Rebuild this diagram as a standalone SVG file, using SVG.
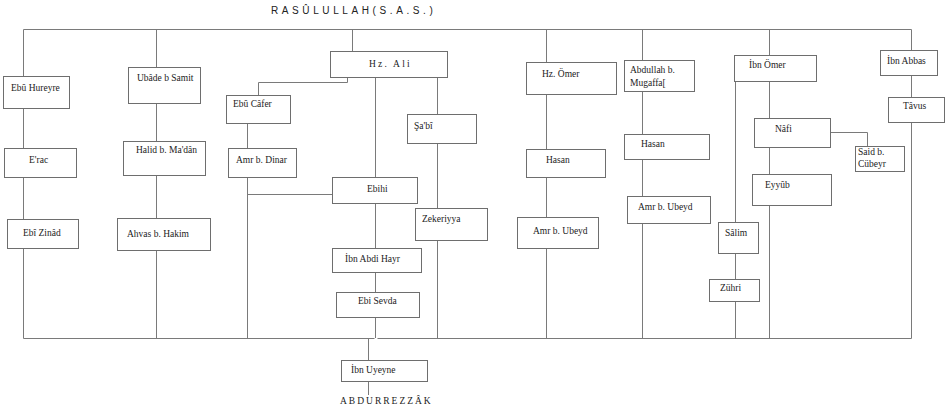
<svg xmlns="http://www.w3.org/2000/svg" width="947" height="411" viewBox="0 0 947 411">
<style>
.ln{stroke:#7a7a7a;stroke-width:1;fill:none}
.bx rect{fill:#fff;stroke:#6e6e6e;stroke-width:1}
.bx text,.t{font-family:"Liberation Serif","Times New Roman",serif;font-size:9.5px;fill:#222}
.title{font-family:"Liberation Sans",Arial,sans-serif;font-size:10px;letter-spacing:3.6px;fill:#222}
.sp{letter-spacing:2px}
</style>
<rect width="947" height="411" fill="#fff"/>
<text class="title" x="271" y="14">RASÛLULLAH(S.A.S.)</text>
<g id="connectors" class="ln">
<path d="M23.5 29.5H911.5V338.5"/>
<path d="M23.5 29.5V338.5H374.5M377.5 338.5H911.5"/>
<path d="M156.5 29.5V338.5"/>
<path d="M352.5 29.5V51"/>
<path d="M347.5 77V82.5H258.5V95"/>
<path d="M247.5 123V338.5"/>
<path d="M247.5 194.5H332"/>
<path d="M375.5 77V338"/>
<path d="M437.5 77V338.5"/>
<path d="M368.5 338.5V395"/>
<path d="M546.5 29.5V338.5"/>
<path d="M642.5 29.5V338.5"/>
<path d="M769.5 29.5V338.5"/>
<path d="M735.5 81V338.5"/>
<path d="M830 132.5H867.5V146"/>
</g>
<g id="n-ebu-hureyre" class="bx"><rect x="3.5" y="76.5" width="66" height="32"/><text x="11" y="91">Ebû Hureyre</text></g>
<g id="n-erac" class="bx"><rect x="4.5" y="148.5" width="72" height="29"/><text x="29" y="163">E'rac</text></g>
<g id="n-ebi-zinad" class="bx"><rect x="7.5" y="219.5" width="71" height="29"/><text x="23" y="236">Ebî Zinâd</text></g>
<g id="n-ubade" class="bx"><rect x="128.5" y="67.5" width="72" height="36"/><text x="137" y="81">Ubâde b Samit</text></g>
<g id="n-halid" class="bx"><rect x="123.5" y="141.5" width="82" height="34"/><text x="136" y="153">Halid b. Ma'dân</text></g>
<g id="n-ahvas" class="bx"><rect x="117.5" y="218.5" width="93" height="32"/><text x="127" y="237">Ahvas b. Hakim</text></g>
<g id="n-hz-ali" class="bx"><rect x="330.5" y="51.5" width="117" height="26"/><text x="369" y="67" style="letter-spacing:2.2px">Hz. Ali</text></g>
<g id="n-ebu-cafer" class="bx"><rect x="226.5" y="95.5" width="64" height="28"/><text x="233" y="107">Ebû Câfer</text></g>
<g id="n-amr-dinar" class="bx"><rect x="228.5" y="148.5" width="68" height="29"/><text x="236" y="163">Amr b. Dinar</text></g>
<g id="n-ebihi" class="bx"><rect x="332.5" y="177.5" width="85" height="26"/><text x="367" y="192">Ebihi</text></g>
<g id="n-sabi" class="bx"><rect x="407.5" y="114.5" width="69" height="29"/><text x="414" y="129">Şa'bî</text></g>
<g id="n-zekeriyya" class="bx"><rect x="415.5" y="208.5" width="72" height="32"/><text x="422" y="222">Zekeriyya</text></g>
<g id="n-ibn-abdi-hayr" class="bx"><rect x="332.5" y="248.5" width="89" height="24"/><text x="345" y="262">İbn Abdi Hayr</text></g>
<g id="n-ebi-sevda" class="bx"><rect x="336.5" y="292.5" width="83" height="25"/><text x="358" y="304">Ebi Sevda</text></g>
<g id="n-ibn-uyeyne" class="bx"><rect x="341.5" y="360.5" width="86" height="21"/><text x="351" y="373">İbn Uyeyne</text></g>
<text class="t sp" x="340" y="404">ABDURREZZÂK</text>
<g id="n-hz-omer" class="bx"><rect x="526.5" y="62.5" width="90" height="32"/><text x="542" y="77">Hz. Ömer</text></g>
<g id="n-hasan-1" class="bx"><rect x="526.5" y="149.5" width="79" height="28"/><text x="546" y="163">Hasan</text></g>
<g id="n-amr-ubeyd-1" class="bx"><rect x="517.5" y="217.5" width="81" height="31"/><text x="533" y="234">Amr b. Ubeyd</text></g>
<g id="n-abdullah" class="bx"><rect x="624.5" y="60.5" width="70" height="31"/><text x="630" y="73">Abdullah b.</text><text x="630" y="86">Mugaffa[</text></g>
<g id="n-hasan-2" class="bx"><rect x="624.5" y="134.5" width="85" height="25"/><text x="641" y="147">Hasan</text></g>
<g id="n-amr-ubeyd-2" class="bx"><rect x="627.5" y="196.5" width="83" height="27"/><text x="638" y="210">Amr b. Ubeyd</text></g>
<g id="n-ibn-omer" class="bx"><rect x="734.5" y="55.5" width="82" height="26"/><text x="749" y="68">İbn Ömer</text></g>
<g id="n-nafi" class="bx"><rect x="754.5" y="118.5" width="76" height="29"/><text x="775" y="132">Nâfi</text></g>
<g id="n-said" class="bx"><rect x="855.5" y="146.5" width="49" height="25"/><text x="858" y="155">Said b.</text><text x="858" y="167">Cübeyr</text></g>
<g id="n-eyyub" class="bx"><rect x="752.5" y="174.5" width="79" height="31"/><text x="765" y="188">Eyyûb</text></g>
<g id="n-salim" class="bx"><rect x="718.5" y="222.5" width="40" height="31"/><text x="725" y="236">Sâlim</text></g>
<g id="n-zuhri" class="bx"><rect x="709.5" y="279.5" width="50" height="22"/><text x="720" y="291">Zühri</text></g>
<g id="n-ibn-abbas" class="bx"><rect x="880.5" y="50.5" width="57" height="25"/><text x="887" y="64">İbn Abbas</text></g>
<g id="n-tavus" class="bx"><rect x="888.5" y="97.5" width="56" height="25"/><text x="903" y="109">Tâvus</text></g>
</svg>
